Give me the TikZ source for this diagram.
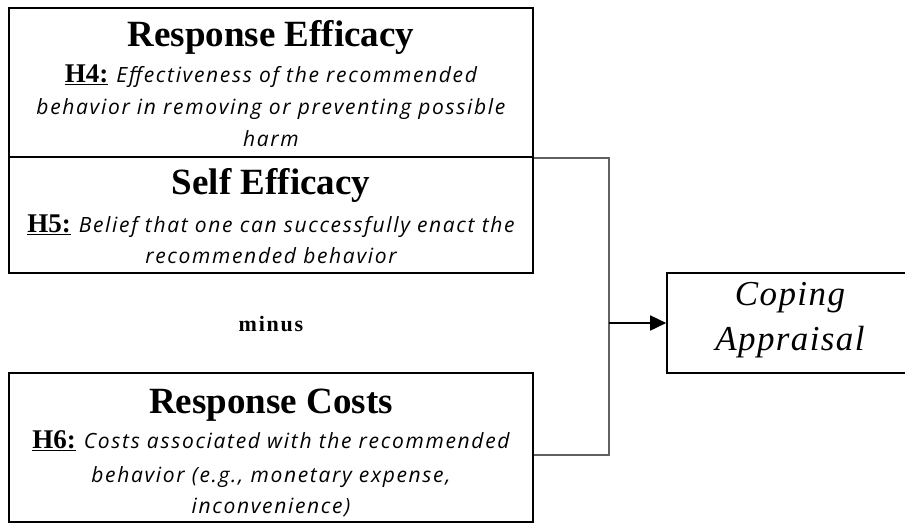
\documentclass[tikz,border=0pt]{standalone}
\usepackage{fontspec}
\setmainfont{Liberation Serif}
\newfontfamily\descfont[LetterSpace=8]{Open Sans}
\usetikzlibrary{arrows.meta}

% Fonts used in the boxes
\newcommand{\titlefont}{\fontsize{37}{40}\selectfont\bfseries}
\newcommand{\hypfont}{\fontsize{27}{30}\selectfont\bfseries}
\newcommand{\bodyfont}{\fontsize{21}{24}\selectfont\descfont\itshape}
\newcommand{\hyp}[2]{{\hypfont\underline{#1}}\hspace{8pt}{\bodyfont #2}}
\newcommand{\outfont}{\fontsize{35}{38}\selectfont\itshape\addfontfeatures{LetterSpace=4}}

\tikzset{
  box/.style={draw=black, line width=1.6pt, inner sep=0pt},
  txt/.style={anchor=base, inner sep=0pt},
  conn/.style={draw=black!62, line width=2pt},
  arr/.style={draw=black, line width=1.6pt, -{Triangle[length=16pt,width=15pt]}}
}

\begin{document}
\begin{tikzpicture}[x=1pt, y=-1pt]
  \useasboundingbox (0,0) rectangle (905,523);
  \clip (0,0) rectangle (905,523);

  % Boxes
  \node[box, minimum width=524pt, minimum height=149pt] (re) at (271,82.5) {};
  \node[box, minimum width=524pt, minimum height=116pt] (se) at (271,215) {};
  \node[box, minimum width=524pt, minimum height=149pt] (rc) at (271,447.5) {};
  \node[box, minimum width=250pt, minimum height=100pt] (ca) at (792,323) {};

  % Response Efficacy
  \node[txt] (reT) at (271,46) {\titlefont Response Efficacy};
  \node[txt] (re1) at (271,82) {\hyp{H4:}{Effectiveness of the recommended}};
  \node[txt] (re2) at (271,114) {\bodyfont behavior in removing or preventing possible};
  \node[txt] (re3) at (271,146) {\bodyfont harm};

  % Self Efficacy
  \node[txt] (seT) at (271,194) {\titlefont Self Efficacy};
  \node[txt] (se1) at (271,232) {\hyp{H5:}{Belief that one can successfully enact the}};
  \node[txt] (se2) at (271,263) {\bodyfont recommended behavior};

  % minus
  \node[txt] (minus) at (271,331) {\fontsize{22}{24}\selectfont\bfseries\addfontfeatures{LetterSpace=8}minus};

  % Response Costs
  \node[txt] (rcT) at (271,413) {\titlefont Response Costs};
  \node[txt] (rc1) at (271,448) {\hyp{H6:}{Costs associated with the recommended}};
  \node[txt] (rc2) at (271,482) {\bodyfont behavior (e.g., monetary expense,};
  \node[txt] (rc3) at (271,513) {\bodyfont inconvenience)};

  % Coping Appraisal
  \node[txt] (ca1) at (790,305) {\outfont Coping};
  \node[txt] (ca2) at (790,350) {\outfont Appraisal};

  % Connectors
  \coordinate (jb) at (609,455);
  \draw[conn] (re.south east) -| (jb) -- (jb -| rc.east);
  \draw[arr] (jb |- ca.west) -- (ca.west);
\end{tikzpicture}
\end{document}
